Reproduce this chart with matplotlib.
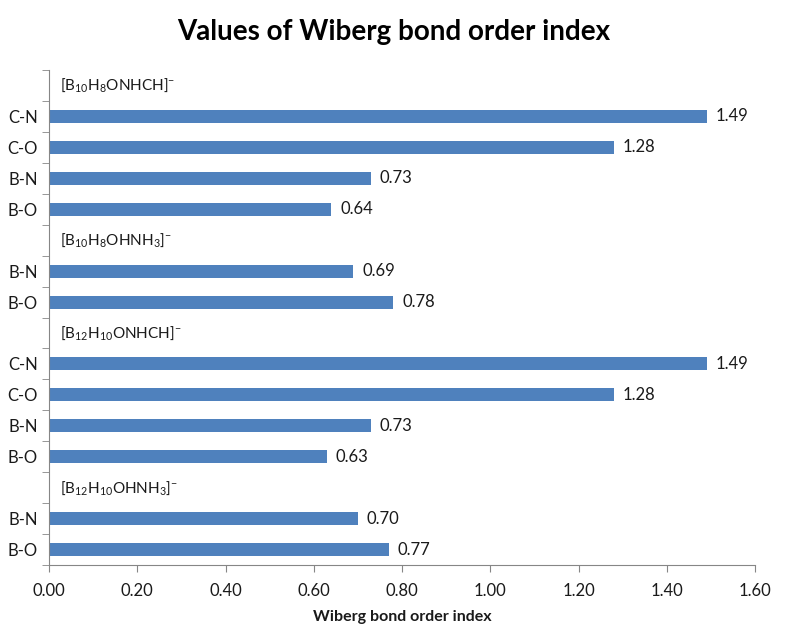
import numpy as np
import matplotlib
matplotlib.use('Agg')
import matplotlib.pyplot as plt

plt.rcParams['font.family'] = ['Lato', 'DejaVu Sans']
plt.rcParams['mathtext.default'] = 'regular'

# data (top to bottom)
groups = [r'[B$_{10}$H$_8$ONHCH]$^{-}$', r'[B$_{10}$H$_8$OHNH$_3$]$^{-}$',
          r'[B$_{12}$H$_{10}$ONHCH]$^{-}$', r'[B$_{12}$H$_{10}$OHNH$_3$]$^{-}$']
bonds = [['C-N', 'C-O', 'B-N', 'B-O'], ['B-N', 'B-O'],
         ['C-N', 'C-O', 'B-N', 'B-O'], ['B-N', 'B-O']]
values = [[1.49, 1.28, 0.73, 0.64], [0.69, 0.78],
          [1.49, 1.28, 0.73, 0.63], [0.70, 0.77]]

color = '#4F81BD'
gray = '#868686'
txt = '#1a1a1a'

fig = plt.figure(figsize=(7.88, 6.43), dpi=100)
ax = fig.add_axes([0.0622, 0.1213, 0.896, 0.7697])

pos = 0
ypos, ylabels, xvals = [], [], []
for g, bl, vl in zip(groups, bonds, values):
    ax.text(0.025, pos, g, va='center', ha='left', fontsize=11, color=txt)
    pos += 1
    for b, v in zip(bl, vl):
        ypos.append(pos)
        ylabels.append(b)
        xvals.append(v)
        pos += 1

bars = ax.barh(ypos, xvals, height=0.42, color=color)
for y, v in zip(ypos, xvals):
    ax.text(v + 0.02, y, f'{v:.2f}', va='center', ha='left', fontsize=12, color=txt)

ax.set_ylim(pos - 0.5, -0.5)
ax.set_xlim(0, 1.6)
ax.set_yticks(ypos)
ax.set_yticklabels(ylabels, fontsize=12, color=txt)
ax.tick_params(axis='y', which='major', length=0, pad=8)
ax.set_yticks(np.arange(-0.5, pos, 1), minor=True)
ax.tick_params(axis='y', which='minor', length=5, color=gray, direction='out')

ax.set_xticks(np.arange(0, 1.61, 0.2))
ax.set_xticklabels([f'{t:.2f}' for t in np.arange(0, 1.61, 0.2)], fontsize=12, color=txt)
ax.tick_params(axis='x', length=5, color=gray, pad=8)

for s in ['top', 'right']:
    ax.spines[s].set_visible(False)
for s in ['left', 'bottom']:
    ax.spines[s].set_color(gray)

ax.set_xlabel('Wiberg bond order index', fontsize=11.5, fontweight='bold', labelpad=8, color=txt)
fig.suptitle('Values of Wiberg bond order index', fontsize=20, fontweight='bold', y=0.97)

fig.savefig('out.png', dpi=100)
